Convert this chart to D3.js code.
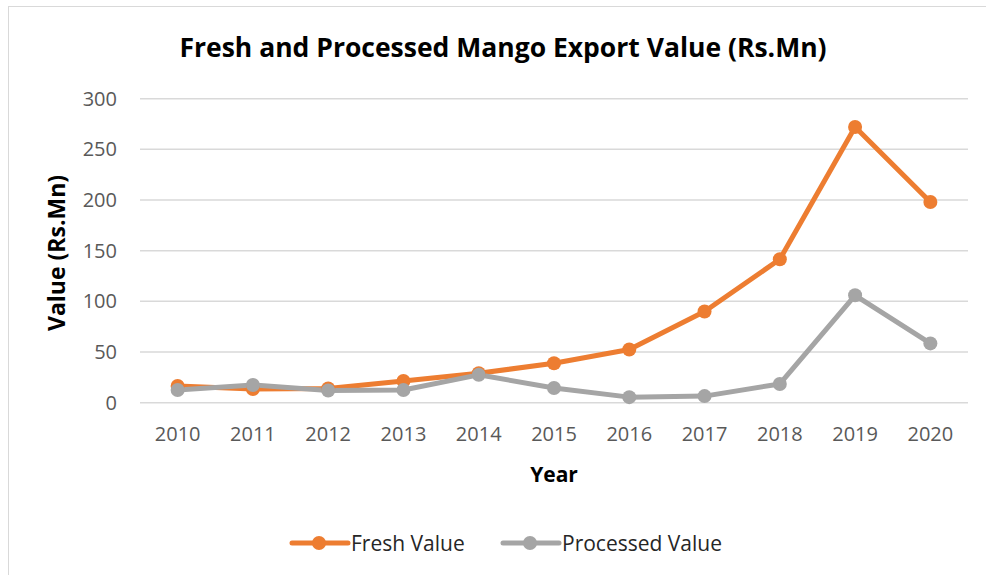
<!DOCTYPE html>
<html>
<head>
<meta charset="utf-8">
<script src="https://cdn.jsdelivr.net/npm/d3@7/dist/d3.min.js"></script>
<style>
  body { margin: 0; background: #fff; }
  svg { display: block; font-family: "Open Sans", "Liberation Sans", sans-serif; }
</style>
</head>
<body>
<div id="chart"></div>
<script>
var years = ['2010', '2011', '2012', '2013', '2014', '2015', '2016', '2017', '2018', '2019', '2020'];
var freshValue = [16.5, 13.5, 14, 21.5, 29, 39, 52.5, 90, 141.5, 272, 198];
var processedValue = [12.5, 17.5, 12, 12.5, 27.5, 14.5, 5.5, 6.5, 18.5, 106, 58.5];
var yTicks = [0, 50, 100, 150, 200, 250, 300];
var seriesNames = ['Fresh Value', 'Processed Value'];
var colors = ['#ED7D31', '#A5A5A5'];

var width = 986;
var height = 575;

var svg = d3.select('#chart')
    .append('svg')
    .attr('width', width)
    .attr('height', height);

// chart frame
svg.append('rect')
    .attr('x', 8.5)
    .attr('y', 6.5)
    .attr('width', 1000)
    .attr('height', 600)
    .attr('fill', 'none')
    .attr('stroke', '#D9D9D9')
    .attr('stroke-width', 1);

var plotLeft = 140, plotRight = 968, plotTop = 98.7, plotBottom = 402.7;

var x = d3.scaleBand()
    .domain(years)
    .range([plotLeft, plotRight]);

var y = d3.scaleLinear()
    .domain([0, 300])
    .range([plotBottom, plotTop]);

// gridlines
svg.append('g')
    .selectAll('line')
    .data(yTicks)
    .enter()
    .append('line')
    .attr('x1', plotLeft)
    .attr('x2', plotRight)
    .attr('y1', function (d) { return y(d); })
    .attr('y2', function (d) { return y(d); })
    .attr('stroke', '#D9D9D9')
    .attr('stroke-width', 1.5);

// y axis labels
var yAxis = svg.append('g')
    .attr('transform', 'translate(' + (plotLeft - 23) + ',0)')
    .call(d3.axisLeft(y).tickValues(yTicks).tickSize(0).tickPadding(0));
yAxis.select('.domain').remove();
yAxis.selectAll('text')
    .attr('fill', '#595959')
    .style('font-size', '20px')
    .style('font-family', '"Open Sans", sans-serif');

// x axis labels
var xAxis = svg.append('g')
    .attr('transform', 'translate(0,' + (plotBottom + 24) + ')')
    .call(d3.axisBottom(x).tickSize(0).tickPadding(0));
xAxis.select('.domain').remove();
xAxis.selectAll('text')
    .attr('fill', '#595959')
    .style('font-size', '20px')
    .style('font-family', '"Open Sans", sans-serif');

// titles
svg.append('text')
    .attr('x', 503)
    .attr('y', 57)
    .attr('text-anchor', 'middle')
    .style('font-size', '26.5px')
    .style('font-weight', 'bold')
    .attr('fill', '#000')
    .text('Fresh and Processed Mango Export Value (Rs.Mn)');

svg.append('text')
    .attr('x', 554)
    .attr('y', 482)
    .attr('text-anchor', 'middle')
    .style('font-size', '21px')
    .style('font-weight', 'bold')
    .attr('fill', '#000')
    .text('Year');

svg.append('text')
    .attr('transform', 'translate(65,253) rotate(-90)')
    .attr('text-anchor', 'middle')
    .style('font-size', '23px')
    .style('font-weight', 'bold')
    .attr('fill', '#000')
    .text('Value (Rs.Mn)');

// lines
var series = [freshValue, processedValue];
var line = d3.line()
    .x(function (d, i) { return x(years[i]) + x.bandwidth() / 2; })
    .y(function (d) { return y(d); });

series.forEach(function (values, s) {
    svg.append('path')
        .datum(values)
        .attr('d', line)
        .attr('fill', 'none')
        .attr('stroke', colors[s])
        .attr('stroke-width', 5)
        .attr('stroke-linejoin', 'round');
});

series.forEach(function (values, s) {
    svg.append('g')
        .selectAll('circle')
        .data(values)
        .enter()
        .append('circle')
        .attr('cx', function (d, i) { return x(years[i]) + x.bandwidth() / 2; })
        .attr('cy', function (d) { return y(d); })
        .attr('r', 7)
        .attr('fill', colors[s]);
});

// legend
var legendX = [292, 503];
var legend = svg.selectAll('.legend')
    .data(seriesNames)
    .enter()
    .append('g')
    .attr('class', 'legend')
    .attr('transform', function (d, i) {
        return 'translate(' + legendX[i] + ',543)';
    });

legend.append('line')
    .attr('x1', 0)
    .attr('x2', 56)
    .attr('stroke', function (d, i) { return colors[i]; })
    .attr('stroke-width', 5)
    .attr('stroke-linecap', 'round');

legend.append('circle')
    .attr('cx', 27)
    .attr('r', 7)
    .attr('fill', function (d, i) { return colors[i]; });

legend.append('text')
    .attr('x', 59)
    .attr('y', 8)
    .style('font-size', '21px')
    .attr('fill', '#262626')
    .text(function (d) { return d; });
</script>
</body>
</html>
